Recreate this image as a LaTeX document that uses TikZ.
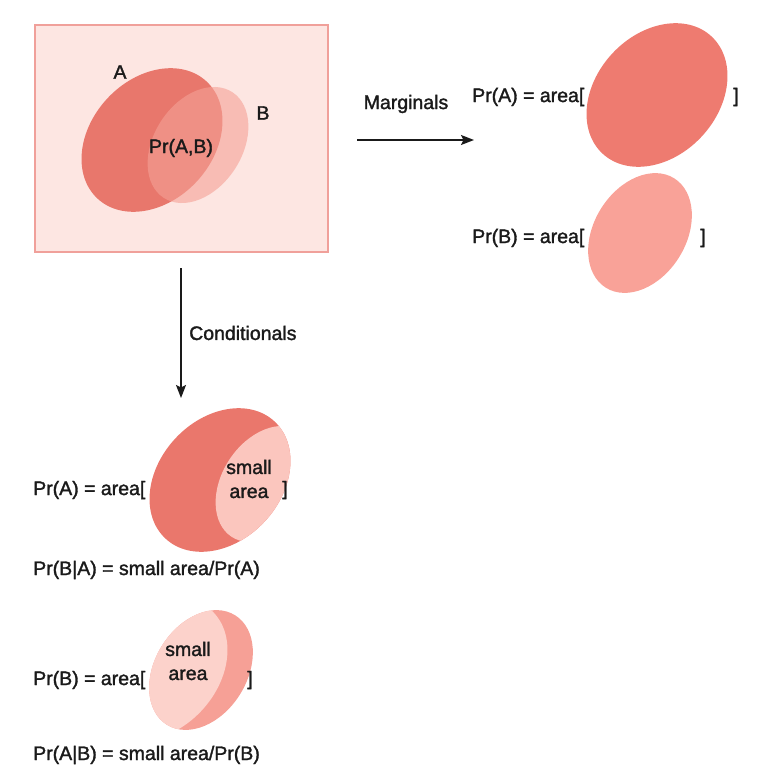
\documentclass[tikz,border=0pt]{standalone}
\usepackage{fontspec}
\setmainfont{Liberation Sans}[FakeBold=1.6]
\usetikzlibrary{arrows.meta}
\definecolor{framefill}{HTML}{FDE6E2}
\definecolor{framedraw}{HTML}{F0A09A}
\definecolor{acol}{HTML}{E8776C}
\definecolor{bcol}{HTML}{F5A196}
\definecolor{margA}{HTML}{EE7B70}
\definecolor{margB}{HTML}{F9A298}
\definecolor{condAdark}{HTML}{EA776C}
\definecolor{condAlight}{HTML}{FBC6BE}
\definecolor{condBmid}{HTML}{F6A096}
\definecolor{condBlight}{HTML}{FCD2CB}
\definecolor{ink}{HTML}{1A1A1A}
\begin{document}
\begin{tikzpicture}[x=1pt,y=-1pt,
  lbl/.style={inner sep=0pt, text=ink, font=\fontsize{19.5}{24}\selectfont},
  flow/.style={line width=1.5pt, draw=ink, -{Stealth[length=13pt,width=10pt,inset=2.5pt]}},
  ellA/.style={x radius=80pt, y radius=61pt},
  ellB/.style={x radius=63pt, y radius=44pt},
  ellBm/.style={x radius=64.5pt, y radius=46pt}]
\useasboundingbox (0,0) rectangle (763,765);
% joint box
\draw[fill=framefill, draw=framedraw, line width=1.5pt] (35,25) rectangle (328,252);
\fill[acol, rotate around={47:(152,140)}] (152,140) ellipse [ellA];
\fill[bcol, fill opacity=0.6, rotate around={57:(198,145)}] (198,145) ellipse [ellB];
\node[lbl] (labA) at (120,72) {A};
\node[lbl] (labB) at (263,113) {B};
\node[lbl] (labAB) at (181,148) {Pr(A,B)};
% marginals
\coordinate (m0) at (357,140);
\coordinate (m1) at (474,140);
\draw[flow] (m0) -- (m1);
\node[lbl] (marg) at (406,104) {Marginals};
\fill[margA, rotate around={47:(657,95)}] (657,95) ellipse [ellA];
\fill[margB, rotate around={58:(640,233)}] (640,233) ellipse [ellBm];
\node[lbl, anchor=west] (pa) at (472,97) {Pr(A) = area[};
\node[lbl] (pab) at (736,97) {]};
\node[lbl, anchor=west] (pb) at (472,238) {Pr(B) = area[};
\node[lbl] (pbb) at (703,238) {]};
% conditionals
\coordinate (c0) at (181,268);
\coordinate (c1) at (181,398);
\draw[flow] (c0) -- (c1);
\node[lbl, anchor=west] (cond) at (189,333) {Conditionals};
% conditional A
\fill[condAdark, rotate around={47:(220,480)}] (220,480) ellipse [ellA];
\begin{scope}
\clip[rotate around={47:(220,480)}] (220,480) ellipse [ellA];
\fill[condAlight, rotate around={57:(266,484)}] (266,484) ellipse [ellB];
\end{scope}
\node[lbl, align=center] (sa1) at (249,479) {small\\area};
\node[lbl, anchor=west] (ca) at (33,490) {Pr(A) = area[};
\node[lbl] (cab) at (285,490) {]};
\node[lbl, anchor=west] (cba) at (33,570) {Pr(B|A) = small area/Pr(A)};
% conditional B
\fill[condBmid, rotate around={58:(201,670)}] (201,670) ellipse [ellBm];
\begin{scope}
\clip[rotate around={58:(201,670)}] (201,670) ellipse [ellBm];
\fill[condBlight, rotate around={47:(157,669)}] (157,669) ellipse [ellA];
\end{scope}
\node[lbl, align=center] (sa2) at (188,661) {small\\area};
\node[lbl, anchor=west] (cb) at (33,680) {Pr(B) = area[};
\node[lbl] (cbb) at (250,680) {]};
\node[lbl, anchor=west] (cab2) at (33,755) {Pr(A|B) = small area/Pr(B)};
\end{tikzpicture}
\end{document}
